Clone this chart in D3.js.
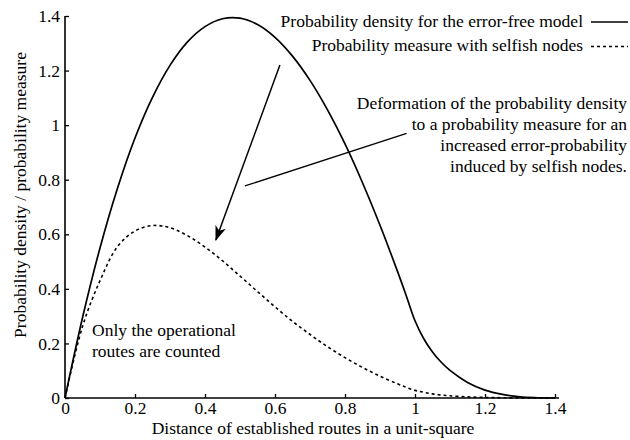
<!DOCTYPE html>
<html>
<head>
<meta charset="utf-8">
<script src="https://cdn.jsdelivr.net/npm/d3@7"></script>
<style>
body { margin: 0; background: #fff; }
text { font-family: "Liberation Serif", "Times New Roman", serif; fill: #000; }
</style>
</head>
<body>
<svg id="chart" width="630" height="440"></svg>
<script>
// values
const distance = [0, 0.05, 0.1, 0.15, 0.2, 0.25, 0.3, 0.35, 0.4, 0.45, 0.5, 0.55, 0.6, 0.65, 0.7, 0.75, 0.8, 0.85, 0.9, 0.95, 0.975, 1.0, 1.025, 1.05, 1.075, 1.1, 1.15, 1.2, 1.25, 1.3, 1.35, 1.4];
const errorFree = [0, 0.294, 0.550, 0.769, 0.953, 1.102, 1.219, 1.305, 1.361, 1.390, 1.392, 1.369, 1.322, 1.253, 1.164, 1.056, 0.931, 0.789, 0.633, 0.464, 0.375, 0.283, 0.217, 0.169, 0.131, 0.101, 0.057, 0.029, 0.013, 0.004, 0.001, 0];
const selfish = [0, 0.262, 0.430, 0.555, 0.612, 0.632, 0.624, 0.595, 0.553, 0.503, 0.447, 0.390, 0.334, 0.281, 0.233, 0.188, 0.148, 0.112, 0.080, 0.052, 0.039, 0.028, 0.021, 0.015, 0.011, 0.008, 0.004, 0.002, 0.001, 0, 0, 0];

const xTicks = [0, 0.2, 0.4, 0.6, 0.8, 1, 1.2, 1.4];
const xTickLabels = ["0", "0.2", "0.4", "0.6", "0.8", "1", "1.2", "1.4"];
const yTicks = [0, 0.2, 0.4, 0.6, 0.8, 1, 1.2, 1.4];
const yTickLabels = ["0", "0.2", "0.4", "0.6", "0.8", "1", "1.2", "1.4"];

const legendLabels = ["Probability density for the error-free model", "Probability measure with selfish nodes"];
const noteLines = ["Deformation of the probability density", "to a probability measure for an", "increased error-probability", "induced by selfish nodes."];
const countedLines = ["Only the operational", "routes are counted"];

// annotation anchors, in data units
const arrowFrom = [0.614, 1.22], arrowTo = [0.431, 0.579];
const pointerFrom = [0.514, 0.777], pointerTo = [0.976, 0.970];

const FONT = 17.5;
const svg = d3.select("#chart");

const x = d3.scaleLinear().domain([0, 1.4]).range([65, 555]);
const y = d3.scaleLinear().domain([0, 1.4]).range([398, 16]);

let xAxis = d3.axisBottom(x).tickValues(xTicks).tickFormat((d, i) => xTickLabels[i])
    .tickSizeInner(-4).tickSizeOuter(0).tickPadding(4);
let yAxis = d3.axisLeft(y).tickValues(yTicks).tickFormat((d, i) => yTickLabels[i])
    .tickSizeInner(-4).tickSizeOuter(0).tickPadding(5);

let gx = svg.append("g").attr("transform", `translate(0,${y(0)})`).call(xAxis);
let gy = svg.append("g").attr("transform", `translate(${x(0)},0)`).call(yAxis);
for (let g of [gx, gy]) {
    g.select(".domain").remove();
    g.selectAll(".tick line").attr("stroke", "#000").attr("stroke-width", 1.3);
    g.selectAll(".tick text").attr("font-size", FONT).attr("font-family", "Liberation Serif").attr("fill", "#000");
}
svg.append("line")
    .attr("x1", x(0)).attr("x2", x(1.4) + 4).attr("y1", y(0)).attr("y2", y(0))
    .attr("stroke", "#000").attr("stroke-width", 1.6);
svg.append("line")
    .attr("x1", x(0)).attr("x2", x(0)).attr("y1", y(0)).attr("y2", y(1.4))
    .attr("stroke", "#000").attr("stroke-width", 1.6);

// curves
let line = (vals) => d3.line()
    .x((d, i) => x(distance[i]))
    .y(d => y(Math.max(0, d)))
    .curve(d3.curveCatmullRom.alpha(0.5))(vals);

svg.append("path").attr("d", line(errorFree))
    .attr("fill", "none").attr("stroke", "#000").attr("stroke-width", 1.7);
svg.append("path").attr("d", line(selfish))
    .attr("fill", "none").attr("stroke", "#000").attr("stroke-width", 1.6)
    .attr("stroke-dasharray", "3,3");

// legend
const legendX = 583;
const legendY = [26.5, 51];
legendLabels.forEach((label, i) => {
    svg.append("text")
        .attr("x", legendX).attr("y", legendY[i])
        .attr("text-anchor", "end").attr("font-size", FONT)
        .text(label);
    svg.append("line")
        .attr("x1", legendX + 8).attr("x2", 628)
        .attr("y1", legendY[i] - 4.5).attr("y2", legendY[i] - 4.5)
        .attr("stroke", "#000").attr("stroke-width", 1.6)
        .attr("stroke-dasharray", i == 1 ? "3,3" : null);
});

// arrow + pointer
svg.append("defs").append("marker")
    .attr("id", "head")
    .attr("viewBox", "0 0 15 11")
    .attr("refX", 14).attr("refY", 5.5)
    .attr("markerWidth", 15).attr("markerHeight", 11)
    .attr("markerUnits", "userSpaceOnUse")
    .attr("orient", "auto")
    .append("path").attr("d", "M0,0L15,5.5L0,11L4,5.5Z").attr("fill", "#000");

svg.append("line")
    .attr("x1", x(arrowFrom[0])).attr("y1", y(arrowFrom[1]))
    .attr("x2", x(arrowTo[0])).attr("y2", y(arrowTo[1]))
    .attr("stroke", "#000").attr("stroke-width", 1.5)
    .attr("marker-end", "url(#head)");

svg.append("line")
    .attr("x1", x(pointerFrom[0])).attr("y1", y(pointerFrom[1]))
    .attr("x2", x(pointerTo[0])).attr("y2", y(pointerTo[1]))
    .attr("stroke", "#000").attr("stroke-width", 1.3);

// notes
noteLines.forEach((t, i) => {
    svg.append("text")
        .attr("x", 627).attr("y", 108.5 + i * 21)
        .attr("text-anchor", "end").attr("font-size", FONT)
        .text(t);
});
countedLines.forEach((t, i) => {
    svg.append("text")
        .attr("x", 92).attr("y", 336 + i * 21)
        .attr("font-size", FONT)
        .text(t);
});

// axis titles
svg.append("text")
    .attr("x", 313).attr("y", 434)
    .attr("text-anchor", "middle").attr("font-size", FONT)
    .text("Distance of established routes in a unit-square");
svg.append("text")
    .attr("transform", "translate(25.5,195) rotate(-90)")
    .attr("text-anchor", "middle").attr("font-size", FONT)
    .text("Probability density / probability measure");
</script>
</body>
</html>
